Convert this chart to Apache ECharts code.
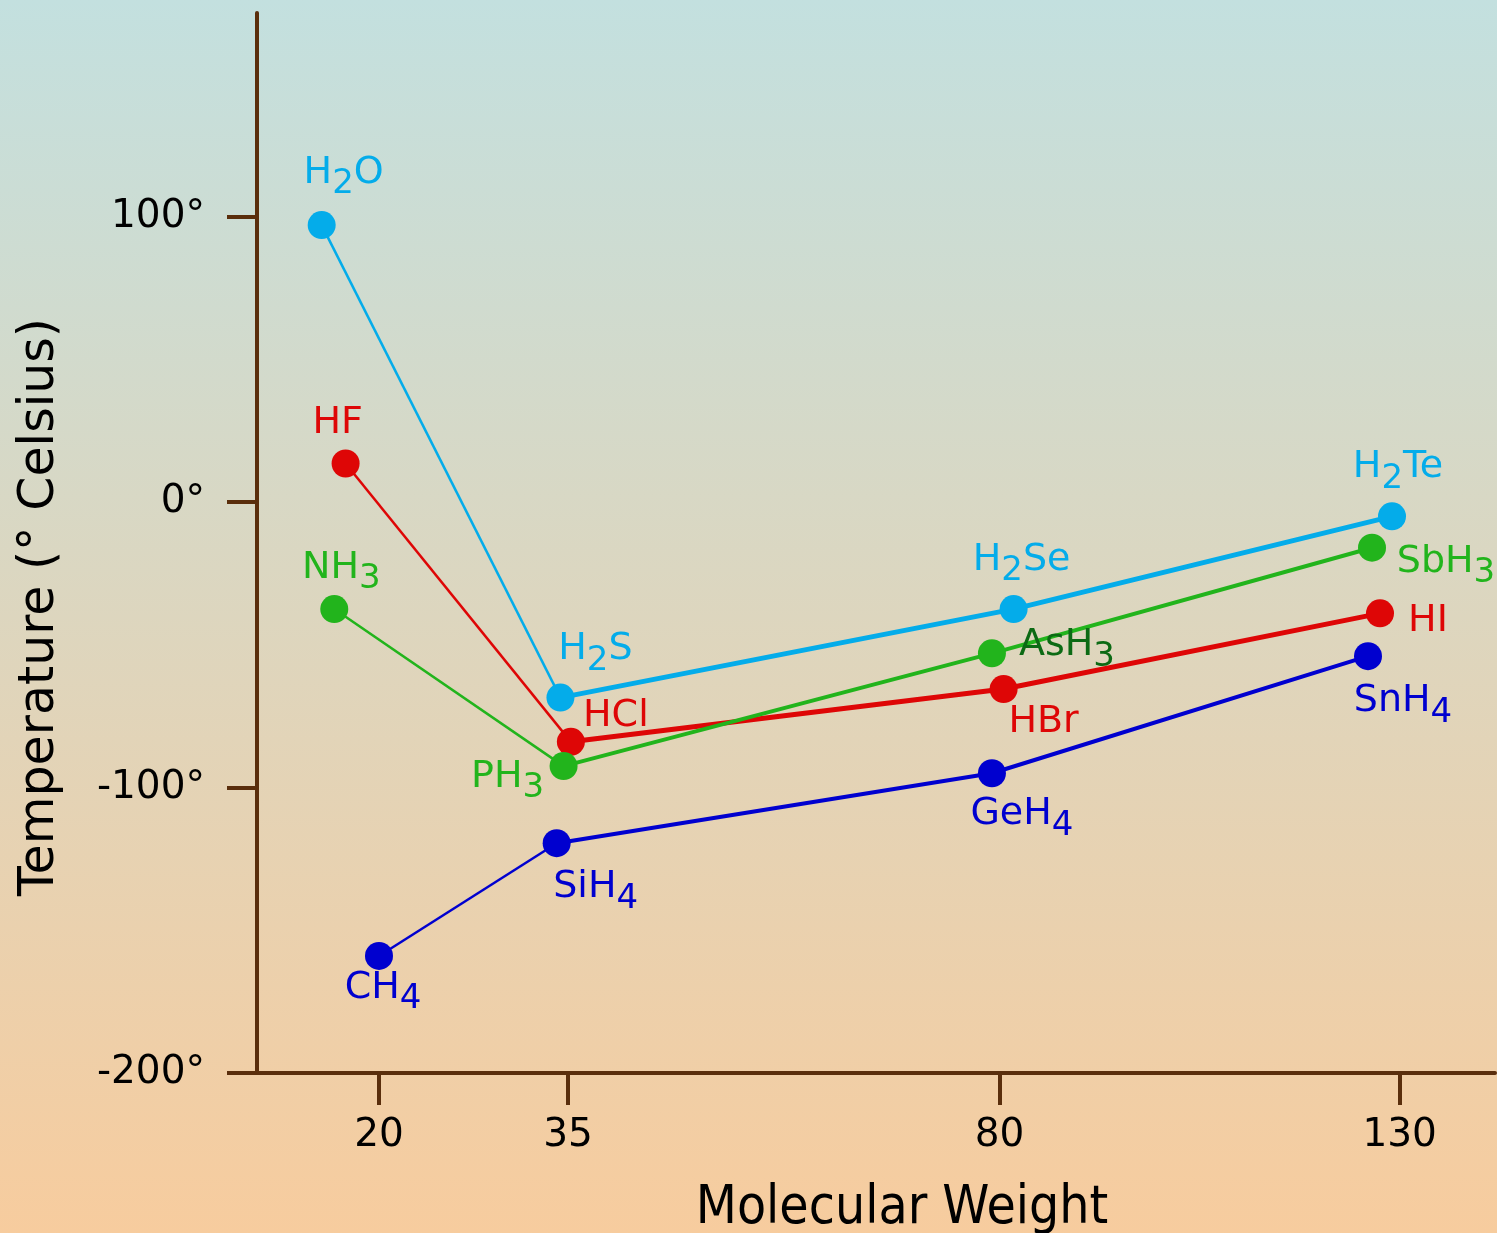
<!DOCTYPE html>
<html>
<head>
<meta charset="utf-8">
<script src="https://cdn.jsdelivr.net/npm/echarts@6/dist/echarts.min.js"></script>
<style>
  html, body { margin: 0; padding: 0; }
  #chart { width: 1497px; height: 1233px; background: linear-gradient(to bottom, #C3E0DF 0%, #F7CC9E 100%); }
</style>
</head>
<body>
<div id="chart"></div>
<script>
// ---- data (molecular weight as placed on the chart's own non-uniform scale, boiling point in °C) ----
const group16Names = ['H2O', 'H2S', 'H2Se', 'H2Te'];
const group16MW    = [15.45, 34.4, 81.75, 129.05];
const group16BP    = [97, -68.5, -37.5, -5];

const group17Names = ['HF', 'HCl', 'HBr', 'HI'];
const group17MW    = [17.35, 35.3, 80.5, 127.55];
const group17BP    = [13.5, -84, -65.5, -39];

const group15Names = ['NH3', 'PH3', 'AsH3', 'SbH3'];
const group15MW    = [16.45, 34.65, 79.2, 126.55];
const group15BP    = [-37.5, -92.5, -53, -16];

const group14Names = ['CH4', 'SiH4', 'GeH4', 'SnH4'];
const group14MW    = [20, 34.1, 79.2, 126.05];
const group14BP    = [-159, -119.5, -95, -54];

const xTickLabels = [20, 35, 80, 130];
const yTickValues = [-200, -100, 0, 100];

// ---- layout (non-uniform x scale: where each printed tick sits along the axis) ----
const X_AXIS_LEN = 1238;
const xTickSlots = [122, 311, 742.6, 1142.6];
function mwPos(mw) {
  const i = mw < xTickLabels[1] ? 0 : (mw < xTickLabels[2] ? 1 : 2);
  const t = (mw - xTickLabels[i]) / (xTickLabels[i + 1] - xTickLabels[i]);
  return xTickSlots[i] + t * (xTickSlots[i + 1] - xTickSlots[i]);
}

const labelOffsets = {
  H2O: [22, -52], H2S: [35, -48], H2Se: [8, -49], H2Te: [6, -49],
  HF: [-8, -40], HCl: [45, -26], HBr: [40, 33], HI: [48, 8],
  NH3: [7, -41], PH3: [-56, 11], AsH3: [75, -8], SbH3: [74, 14],
  CH4: [4, 32], SiH4: [39, 44], GeH4: [30, 41], SnH4: [35, 45]
};
const labelColorOverride = { AsH3: '#0C6A14' };

const families = [
  { names: group16Names, mw: group16MW, bp: group16BP, color: '#04ACEA', thin: 2.5, thick: 5 },
  { names: group17Names, mw: group17MW, bp: group17BP, color: '#DE0606', thin: 2.5, thick: 5 },
  { names: group15Names, mw: group15MW, bp: group15BP, color: '#22B41C', thin: 2.5, thick: 4 },
  { names: group14Names, mw: group14MW, bp: group14BP, color: '#0000CF', thin: 2.5, thick: 4 }
];

function formula(name) {
  return '{n|' + name.replace(/(\d)/g, '}{s|$1}{n|') + '}';
}

const FONT = 'DejaVu Sans';
const series = [];
families.forEach(function (f) {
  const pts = f.mw.map(function (m, i) { return [mwPos(m), f.bp[i]]; });
  series.push({
    type: 'line', data: pts.slice(0, 2), symbol: 'none', z: 2, silent: true,
    lineStyle: { color: f.color, width: f.thin, opacity: 1 }
  });
  series.push({
    type: 'line', data: pts.slice(1), symbol: 'none', z: 2, silent: true,
    lineStyle: { color: f.color, width: f.thick, opacity: 1 }
  });
  series.push({
    type: 'scatter', z: 4, symbol: 'circle', symbolSize: 28,
    itemStyle: { color: f.color, opacity: 1 },
    data: pts.map(function (p, i) {
      const nm = f.names[i];
      const col = labelColorOverride[nm] || f.color;
      return {
        value: p,
        name: nm,
        label: {
          show: true, position: 'inside', offset: labelOffsets[nm],
          formatter: formula(nm),
          rich: {
            n: { fontFamily: FONT, fontSize: 38, lineHeight: 40, color: col },
            s: { fontFamily: FONT, fontSize: 34, lineHeight: 34, padding: [23, 0, 0, 0], color: col }
          }
        }
      };
    })
  });
});

const AXIS_COLOR = '#5A2E0C';
const chart = echarts.init(document.getElementById('chart'), null, { renderer: 'canvas' });
chart.setOption({
  backgroundColor: 'transparent',
  animation: false,
  grid: { left: 257, right: 2, top: 13, bottom: 160, containLabel: false, outerBoundsMode: 'none' },
  xAxis: {
    type: 'value', min: 0, max: X_AXIS_LEN,
    name: 'Molecular Weight', nameLocation: 'middle', nameGap: 110,
    nameTextStyle: { fontFamily: ['DejaVu Sans Condensed', 'Liberation Sans Narrow', 'DejaVu Sans'], fontSize: 53, color: '#000', padding: [0, 0, 0, 52] },
    axisLine: { show: true, onZero: false, lineStyle: { color: AXIS_COLOR, width: 4 } },
    axisTick: { show: true, inside: false, length: 32, customValues: xTickLabels.map(mwPos), lineStyle: { color: AXIS_COLOR, width: 4 } },
    axisLabel: {
      customValues: xTickLabels.map(mwPos), margin: 43, fontFamily: FONT, fontSize: 39, color: '#000',
      formatter: function (v) {
        let best = 0;
        xTickSlots.forEach(function (s, i) { if (Math.abs(s - v) < Math.abs(xTickSlots[best] - v)) best = i; });
        return String(xTickLabels[best]);
      }
    },
    splitLine: { show: false }
  },
  yAxis: {
    type: 'value', min: -200, max: 171.3,
    name: 'Temperature (° Celsius)', nameLocation: 'middle', nameGap: 192,
    nameTextStyle: { fontFamily: FONT, fontSize: 49, color: '#000', padding: [0, 128, 0, 0] },
    axisLine: { show: true, onZero: false, lineStyle: { color: AXIS_COLOR, width: 4 } },
    axisTick: { show: true, inside: false, length: 30, customValues: yTickValues, lineStyle: { color: AXIS_COLOR, width: 4 } },
    axisLabel: {
      customValues: yTickValues, margin: 52, fontFamily: FONT, fontSize: 39, color: '#000',
      formatter: function (v) { return v + '°'; }
    },
    splitLine: { show: false }
  },
  series: series
});
</script>
</body>
</html>
